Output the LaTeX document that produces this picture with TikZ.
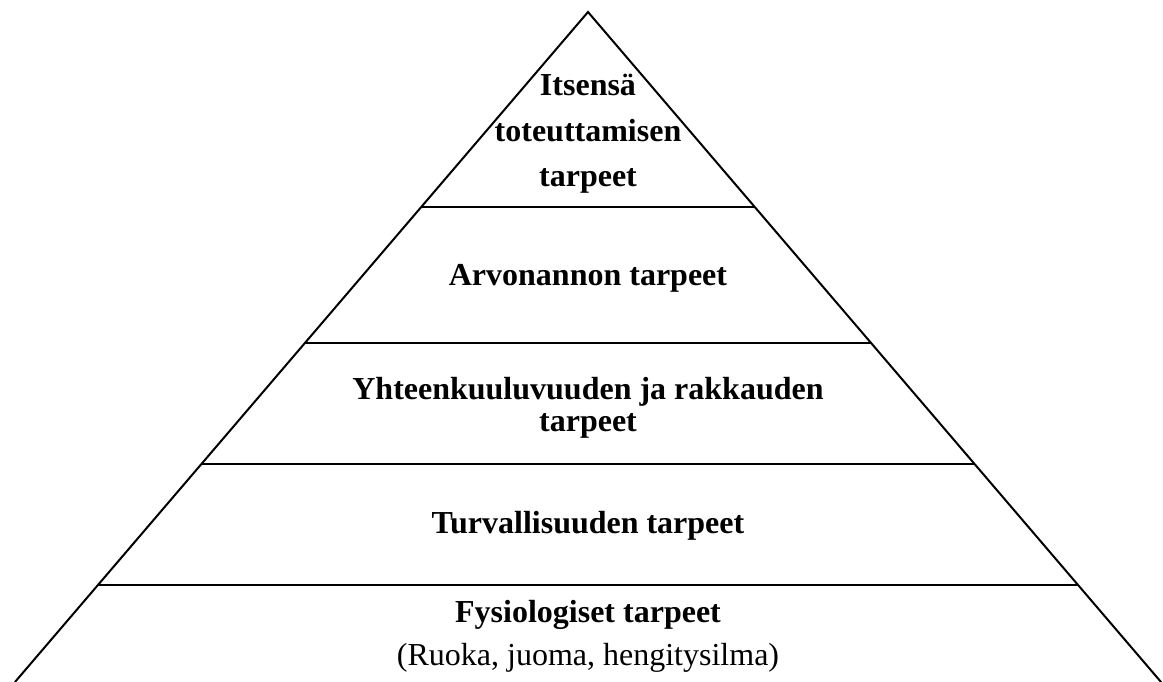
\documentclass[tikz,border=0pt]{standalone}
\usepackage{fontspec}
\setmainfont{Liberation Serif}
\usetikzlibrary{calc}
\begin{document}
\begin{tikzpicture}[x=1pt,y=-1pt,
  edge/.style={line width=2pt,line cap=round},
  divider/.style={line width=2.6pt},
  tier/.style={font=\fontsize{32}{36}\selectfont\bfseries,anchor=base,inner sep=0pt},
  note/.style={font=\fontsize{32}{36}\selectfont,anchor=base,inner sep=0pt}]
  \useasboundingbox (0,0) rectangle (1163,682);
  \clip (0,0) rectangle (1163,682);
  % pyramid outline
  \coordinate (apex) at (588,12);
  \coordinate (bl) at (15,682);
  \coordinate (br) at (1161,682);
  \draw[edge] (bl) -- (apex) -- (br);
  % tier boundaries
  \foreach \t/\n in {0.2910/a,0.4940/b,0.6746/c,0.8552/d}{
    \coordinate (l\n) at ($(apex)!\t!(bl)$);
    \coordinate (r\n) at ($(apex)!\t!(br)$);
    \draw[divider] (l\n) -- (r\n);
  }
  % labels
  \node[tier] (t1a) at (588,96) {Itsensä};
  \node[tier] (t1b) at (588,142) {toteuttamisen};
  \node[tier] (t1c) at (588,187) {tarpeet};
  \node[tier] (t2) at (588,285) {Arvonannon tarpeet};
  \node[tier] (t3a) at (588,399) {Yhteenkuuluvuuden ja rakkauden};
  \node[tier] (t3b) at (588,431) {tarpeet};
  \node[tier] (t4) at (588,533) {Turvallisuuden tarpeet};
  \node[tier] (t5) at (588,622) {Fysiologiset tarpeet};
  \node[note] (t5n) at (588,665) {(Ruoka, juoma, hengitysilma)};
\end{tikzpicture}
\end{document}
